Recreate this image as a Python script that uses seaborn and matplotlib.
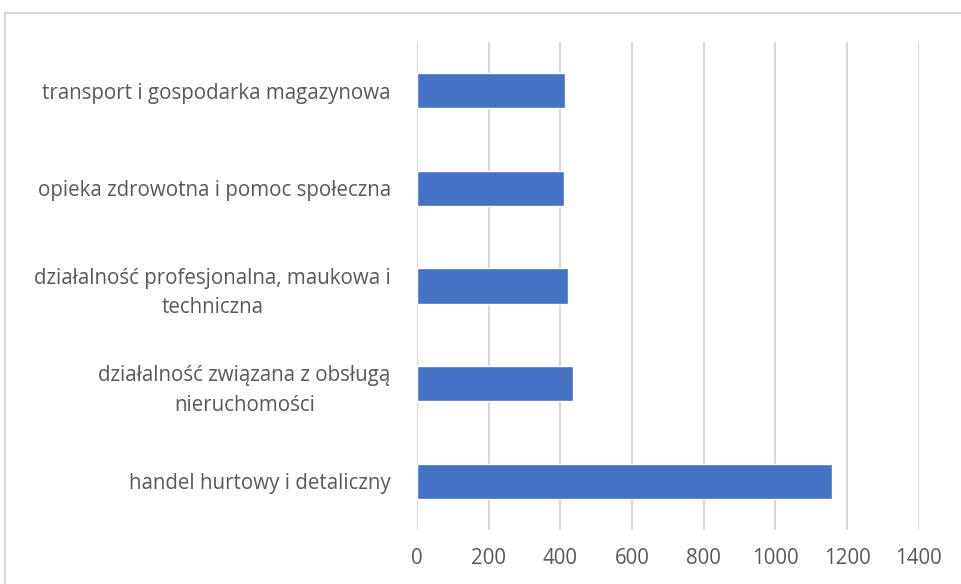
import matplotlib
matplotlib.use("Agg")
import matplotlib.pyplot as plt
import matplotlib.patches as patches
import pandas as pd
import seaborn as sns

categories = [
    "transport i gospodarka magazynowa",
    "opieka zdrowotna i pomoc społeczna",
    "działalność profesjonalna, maukowa i\ntechniczna",
    "działalność związana z obsługą\nnieruchomości",
    "handel hurtowy i detaliczny",
]
values = [412, 410, 421, 435, 1159]
x_ticks = [0, 200, 400, 600, 800, 1000, 1200, 1400]

df = pd.DataFrame({"category": categories, "value": values})

sns.set_style("white")
plt.rcParams["font.family"] = ["Open Sans", "DejaVu Sans"]

fig = plt.figure(figsize=(9.61, 5.84), dpi=100)
ax = fig.add_axes([0.434, 0.0925, 0.522, 0.8355])

sns.barplot(data=df, x="value", y="category", orient="h", color="#4472C4",
            width=0.36, saturation=1, ax=ax)

ax.set_xlim(0, 1400)
ax.set_xticks(x_ticks)
ax.xaxis.grid(True, color="#d9d9d9", linewidth=1.5)
ax.set_axisbelow(True)
for s in ax.spines.values():
    s.set_visible(False)
ax.set_xlabel("")
ax.set_ylabel("")
ax.tick_params(axis="both", length=0, colors="#595959", labelsize=14.8)
ax.tick_params(axis="x", pad=13)
ax.tick_params(axis="y", pad=19)
for lbl in ax.get_yticklabels():
    lbl.set_multialignment("center")
    lbl.set_linespacing(1.55)

# chart frame
fig.patches.append(patches.Rectangle((5 / 961, -0.1), 1.2, 1 - 13 / 584 + 0.1,
                                     transform=fig.transFigure, fill=False,
                                     edgecolor="#d9d9d9", linewidth=1.5))

fig.savefig("out.png", dpi=100)
